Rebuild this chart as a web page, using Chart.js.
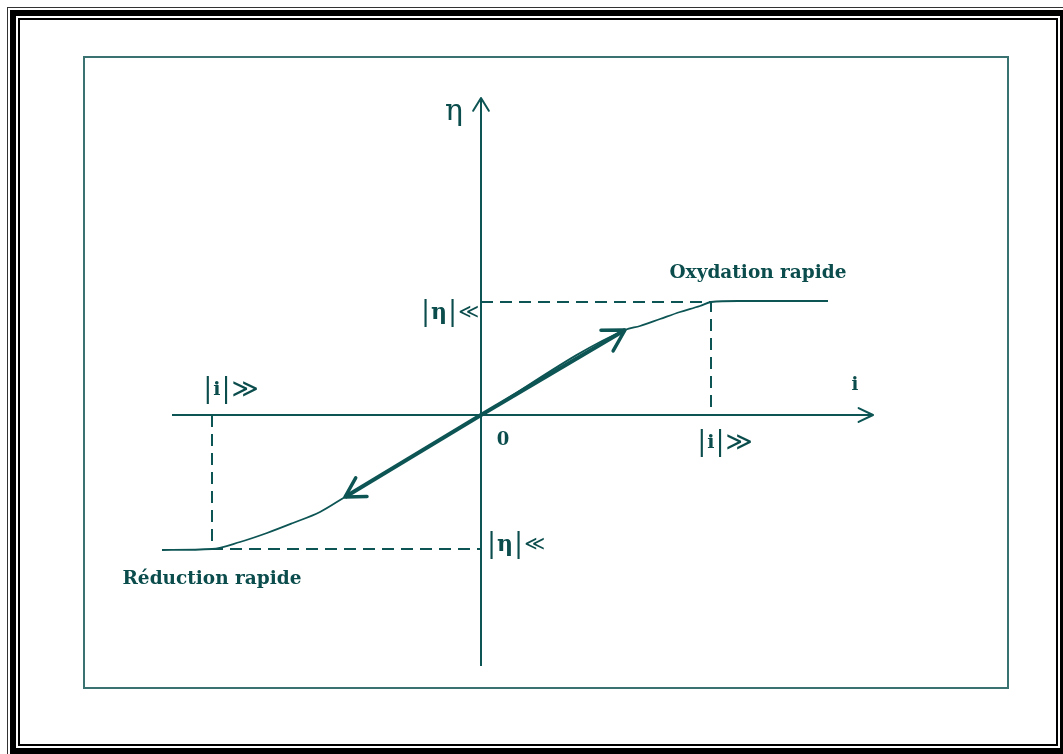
<!DOCTYPE html>
<html>
<head>
<meta charset="utf-8">
<script src="https://cdn.jsdelivr.net/npm/chart.js@4.4.1/dist/chart.umd.min.js"></script>
<style>
html, body { margin: 0; padding: 0; background: #fff; overflow: hidden; width: 1063px; height: 754px; }
#wrap { position: relative; width: 1063px; height: 754px; }
.b { position: absolute; box-sizing: border-box; }
</style>
</head>
<body>
<div id="wrap">
  <div class="b" style="left:7px;top:7px;width:1070px;height:760px;border:1px solid #333"></div>
  <div class="b" style="left:10px;top:10px;width:1056px;height:744px;border:6px solid #000"></div>
  <div class="b" style="left:18px;top:18px;width:1040px;height:728px;border:2px solid #000"></div>
  <canvas id="chart" width="1063" height="754" style="position:absolute;left:0;top:0"></canvas>
</div>
<script>
// axes (i horizontal, eta vertical), in chart units
const iAxisI = [-6.18, 7.84];
const iAxisEta = [0, 0];
const etaAxisI = [0, 0];
const etaAxisEta = [-5.02, 6.34];

// polarisation curve eta = f(i)
const curveI   = [-6.38, -5.38, -4.82, -4.28, -3.76, -3.22, -2.72, 0, 2.88, 3.18, 3.58, 3.98, 4.38, 4.6, 5.14, 6.94];
const curveEta = [-2.70, -2.68, -2.54, -2.36, -2.16, -1.94, -1.64, 0, 1.70, 1.78, 1.92, 2.06, 2.18, 2.26, 2.28, 2.28];

// limits |i|>> and |eta|<<
const iHigh = 4.6, iLow = -5.38;
const etaHigh = 2.26, etaLow = -2.68;

// linear region arrows
const arrowUpI = [0, 2.88], arrowUpEta = [0, 1.70];
const arrowDownI = [0, -2.72], arrowDownEta = [0, -1.64];

// labels
const labelText = ['η', '|η|≪', '|η|≪', '|i|≫', '|i|≫', 'i', '0', 'Oxydation rapide', 'Réduction rapide'];
const labelI    = [-0.54, -0.62, 0.70, -5.00, 4.88, 7.48, 0.44, 5.54, -5.38];
const labelEta  = [6.06, 2.04, -2.60, 0.50, -0.56, 0.60, -0.50, 2.84, -3.28];

const LINE = '#0d5454';
const TEXT = '#0b4c4c';

const pts = (xs, ys) => xs.map((x, k) => ({x: x, y: ys[k]}));

const frame = {
    id: 'frame',
    beforeDatasetsDraw(chart) {
        const {ctx, chartArea: a} = chart;
        ctx.save();
        ctx.strokeStyle = '#3a7272';
        ctx.lineWidth = 2;
        ctx.strokeRect(a.left, a.top, a.right - a.left, a.bottom - a.top);
        ctx.restore();
    }
};

const arrowHeads = {
    id: 'arrowHeads',
    afterDatasetsDraw(chart) {
        const ctx = chart.ctx;
        chart.data.datasets.forEach((ds, i) => {
            if (!ds.arrow) return;
            const p = chart.getDatasetMeta(i).data;
            const a = p[p.length - 2], b = p[p.length - 1];
            const ang = Math.atan2(b.y - a.y, b.x - a.x);
            ctx.save();
            ctx.strokeStyle = ds.borderColor;
            ctx.lineWidth = ds.arrow.width;
            ctx.lineCap = 'round';
            ctx.beginPath();
            [ds.arrow.spread, -ds.arrow.spread].forEach(s => {
                ctx.moveTo(b.x, b.y);
                ctx.lineTo(b.x - ds.arrow.len * Math.cos(ang + s), b.y - ds.arrow.len * Math.sin(ang + s));
            });
            ctx.stroke();
            ctx.restore();
        });
    }
};

function partFont(ch) {
    if (ch === '|') return '300 27px "DejaVu Serif"';
    if (ch === 'i') return 'bold 19px "DejaVu Serif"';
    if (ch === 'η') return 'bold 22px "DejaVu Serif"';
    if (ch === '≪') return '20px "DejaVu Sans"';
    return '26px "DejaVu Sans"';
}

const labels = {
    id: 'labels',
    afterDraw(chart) {
        const ctx = chart.ctx;
        const xs = chart.scales.x, ys = chart.scales.y;
        ctx.save();
        ctx.fillStyle = TEXT;
        ctx.textBaseline = 'middle';
        labelText.forEach((t, k) => {
            const cx = xs.getPixelForValue(labelI[k]);
            const cy = ys.getPixelForValue(labelEta[k]);
            if (t.includes(' ')) {
                ctx.font = 'bold 18.5px "DejaVu Serif"';
                ctx.textAlign = 'center';
                ctx.fillText(t, cx, cy);
                return;
            }
            if (t === 'η') {
                ctx.font = '30px "DejaVu Serif"';
                ctx.textAlign = 'center';
                ctx.fillText(t, cx, cy);
                return;
            }
            if (t === 'i' || t === '0') {
                ctx.font = 'bold 18px "DejaVu Serif"';
                ctx.textAlign = 'center';
                ctx.fillText(t, cx, cy);
                return;
            }
            const parts = [...t];
            const gap = 1;
            let total = 0;
            const w = parts.map(ch => { ctx.font = partFont(ch); const m = ctx.measureText(ch).width; total += m + gap; return m; });
            total -= gap;
            let x = cx - total / 2;
            ctx.textAlign = 'left';
            parts.forEach((ch, j) => {
                ctx.font = partFont(ch);
                ctx.fillText(ch, x, cy);
                x += w[j] + gap;
            });
        });
        ctx.restore();
    }
};

new Chart(document.getElementById('chart'), {
    type: 'scatter',
    data: {
        datasets: [
            {data: pts(arrowUpI, arrowUpEta), showLine: true, borderColor: LINE, borderWidth: 4, pointRadius: 0,
             arrow: {len: 24, spread: 0.52, width: 3.5}},
            {data: pts(arrowDownI, arrowDownEta), showLine: true, borderColor: LINE, borderWidth: 4, pointRadius: 0,
             arrow: {len: 22, spread: 0.52, width: 3.5}},
            {data: pts(curveI, curveEta), showLine: true, borderColor: LINE, borderWidth: 1.8, pointRadius: 0,
             cubicInterpolationMode: 'monotone'},
            {data: [{x: 0, y: etaHigh}, {x: iHigh, y: etaHigh}, {x: iHigh, y: 0}], showLine: true,
             borderColor: LINE, borderWidth: 2, borderDash: [12, 7], pointRadius: 0},
            {data: [{x: iLow, y: 0}, {x: iLow, y: etaLow}, {x: 0, y: etaLow}], showLine: true,
             borderColor: LINE, borderWidth: 2, borderDash: [12, 7], pointRadius: 0},
            {data: pts(iAxisI, iAxisEta), showLine: true, borderColor: LINE, borderWidth: 2, pointRadius: 0,
             arrow: {len: 16, spread: 0.45, width: 2}},
            {data: pts(etaAxisI, etaAxisEta), showLine: true, borderColor: LINE, borderWidth: 2, pointRadius: 0,
             arrow: {len: 15, spread: 0.55, width: 2}}
        ]
    },
    options: {
        responsive: false,
        animation: false,
        layout: {padding: {left: 84, top: 57, right: 55, bottom: 66}},
        plugins: {legend: {display: false}, tooltip: {enabled: false}},
        scales: {
            x: {type: 'linear', display: false, min: -7.94, max: 10.54},
            y: {type: 'linear', display: false, min: -5.46, max: 7.16}
        }
    },
    plugins: [frame, arrowHeads, labels]
});
</script>
</body>
</html>
